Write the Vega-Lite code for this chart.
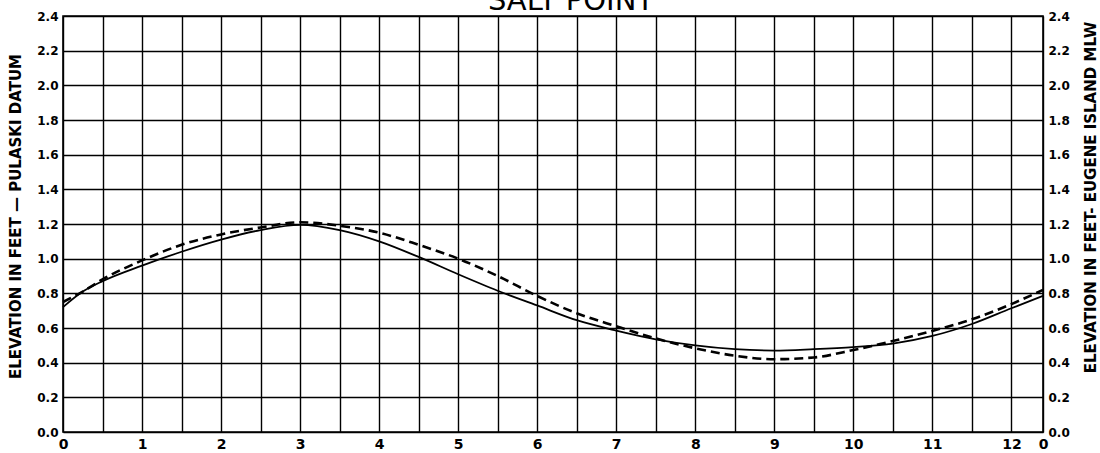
{
  "$schema": "https://vega.github.io/schema/vega-lite/v6.json",
  "autosize": {"type": "none"},
  "padding": {"left": 63, "top": 16, "right": 57, "bottom": 21},
  "width": 980,
  "height": 416,
  "background": "white",
  "title": {
    "text": "SALT POINT",
    "font": "DejaVu Sans",
    "fontSize": 29,
    "fontWeight": "normal",
    "color": "black",
    "anchor": "middle",
    "dx": 18,
    "offset": -6
  },
  "config": {
    "view": {"stroke": "black", "strokeWidth": 1.6},
    "axis": {
      "labelFont": "DejaVu Sans",
      "labelFontWeight": "bold",
      "labelColor": "black",
      "titleFont": "DejaVu Sans",
      "titleFontWeight": "bold",
      "titleColor": "black",
      "gridColor": "black",
      "gridOpacity": 1,
      "gridWidth": 1.4,
      "domain": false,
      "ticks": false
    }
  },
  "data": {
    "values": [
      {"hour": 0, "elev": 0.72, "series": "solid"},
      {"hour": 0.25, "elev": 0.81, "series": "solid"},
      {"hour": 0.5, "elev": 0.87, "series": "solid"},
      {"hour": 1, "elev": 0.96, "series": "solid"},
      {"hour": 1.5, "elev": 1.04, "series": "solid"},
      {"hour": 2, "elev": 1.11, "series": "solid"},
      {"hour": 2.5, "elev": 1.165, "series": "solid"},
      {"hour": 3, "elev": 1.195, "series": "solid"},
      {"hour": 3.5, "elev": 1.165, "series": "solid"},
      {"hour": 4, "elev": 1.1, "series": "solid"},
      {"hour": 4.5, "elev": 1.01, "series": "solid"},
      {"hour": 5, "elev": 0.91, "series": "solid"},
      {"hour": 5.5, "elev": 0.815, "series": "solid"},
      {"hour": 6, "elev": 0.73, "series": "solid"},
      {"hour": 6.5, "elev": 0.645, "series": "solid"},
      {"hour": 7, "elev": 0.585, "series": "solid"},
      {"hour": 7.5, "elev": 0.535, "series": "solid"},
      {"hour": 8, "elev": 0.5, "series": "solid"},
      {"hour": 8.5, "elev": 0.478, "series": "solid"},
      {"hour": 9, "elev": 0.47, "series": "solid"},
      {"hour": 9.5, "elev": 0.478, "series": "solid"},
      {"hour": 10, "elev": 0.49, "series": "solid"},
      {"hour": 10.5, "elev": 0.51, "series": "solid"},
      {"hour": 11, "elev": 0.554, "series": "solid"},
      {"hour": 11.5, "elev": 0.623, "series": "solid"},
      {"hour": 12, "elev": 0.714, "series": "solid"},
      {"hour": 12.4, "elev": 0.785, "series": "solid"},
      {"hour": 0, "elev": 0.75, "series": "dashed"},
      {"hour": 0.25, "elev": 0.81, "series": "dashed"},
      {"hour": 0.5, "elev": 0.88, "series": "dashed"},
      {"hour": 1, "elev": 0.99, "series": "dashed"},
      {"hour": 1.5, "elev": 1.08, "series": "dashed"},
      {"hour": 2, "elev": 1.14, "series": "dashed"},
      {"hour": 2.5, "elev": 1.18, "series": "dashed"},
      {"hour": 3, "elev": 1.21, "series": "dashed"},
      {"hour": 3.5, "elev": 1.19, "series": "dashed"},
      {"hour": 4, "elev": 1.15, "series": "dashed"},
      {"hour": 4.5, "elev": 1.08, "series": "dashed"},
      {"hour": 5, "elev": 1.0, "series": "dashed"},
      {"hour": 5.5, "elev": 0.9, "series": "dashed"},
      {"hour": 6, "elev": 0.785, "series": "dashed"},
      {"hour": 6.5, "elev": 0.685, "series": "dashed"},
      {"hour": 7, "elev": 0.61, "series": "dashed"},
      {"hour": 7.5, "elev": 0.54, "series": "dashed"},
      {"hour": 8, "elev": 0.483, "series": "dashed"},
      {"hour": 8.5, "elev": 0.44, "series": "dashed"},
      {"hour": 9, "elev": 0.42, "series": "dashed"},
      {"hour": 9.5, "elev": 0.43, "series": "dashed"},
      {"hour": 10, "elev": 0.473, "series": "dashed"},
      {"hour": 10.5, "elev": 0.525, "series": "dashed"},
      {"hour": 11, "elev": 0.583, "series": "dashed"},
      {"hour": 11.5, "elev": 0.65, "series": "dashed"},
      {"hour": 12, "elev": 0.738, "series": "dashed"},
      {"hour": 12.4, "elev": 0.82, "series": "dashed"}
    ]
  },
  "encoding": {
    "x": {
      "field": "hour",
      "type": "quantitative",
      "scale": {"domain": [0, 12.4], "nice": false, "zero": false},
      "axis": {
        "title": null,
        "values": [0, 0.5, 1, 1.5, 2, 2.5, 3, 3.5, 4, 4.5, 5, 5.5, 6, 6.5, 7, 7.5, 8, 8.5, 9, 9.5, 10, 10.5, 11, 11.5, 12, 12.4],
        "labelExpr": "datum.value == 12.4 ? '0' : (datum.value % 1 == 0 ? toString(datum.value) : '')",
        "labelFontSize": 14,
        "labelPadding": 5,
        "labelFlush": false,
        "labelOverlap": false
      }
    }
  },
  "layer": [
    {
      "transform": [{"filter": "datum.series == 'solid'"}],
      "mark": {"type": "line", "color": "black", "strokeWidth": 1.8, "interpolate": "monotone"},
      "encoding": {
        "y": {
          "field": "elev",
          "type": "quantitative",
          "scale": {"domain": [0, 2.4], "nice": false},
          "axis": {
            "orient": "left",
            "values": [0, 0.2, 0.4, 0.6, 0.8, 1.0, 1.2, 1.4, 1.6, 1.8, 2.0, 2.2, 2.4],
            "format": ".1f",
            "labelFontSize": 12,
            "labelPadding": 5,
            "labelFlush": false,
            "labelOverlap": false,
            "title": "ELEVATION IN FEET — PULASKI DATUM",
            "titleFontSize": 15,
            "titleAngle": -90,
            "titleX": -48,
            "titleY": 200,
            "titleAlign": "center",
            "titleBaseline": "middle"
          }
        }
      }
    },
    {
      "transform": [{"filter": "datum.series == 'dashed'"}],
      "mark": {"type": "line", "color": "black", "strokeWidth": 2.6, "strokeDash": [9, 5], "interpolate": "monotone"},
      "encoding": {
        "y": {
          "field": "elev",
          "type": "quantitative",
          "scale": {"domain": [0, 2.4], "nice": false},
          "axis": {
            "orient": "right",
            "grid": false,
            "values": [0, 0.2, 0.4, 0.6, 0.8, 1.0, 1.2, 1.4, 1.6, 1.8, 2.0, 2.2, 2.4],
            "format": ".1f",
            "labelFontSize": 12,
            "labelPadding": 5,
            "labelFlush": false,
            "labelOverlap": false,
            "title": "ELEVATION IN FEET- EUGENE ISLAND MLW",
            "titleFontSize": 15,
            "titleAngle": -90,
            "titleX": 47,
            "titleY": 181,
            "titleAlign": "center",
            "titleBaseline": "middle"
          }
        }
      }
    }
  ],
  "resolve": {"scale": {"y": "independent"}}
}
